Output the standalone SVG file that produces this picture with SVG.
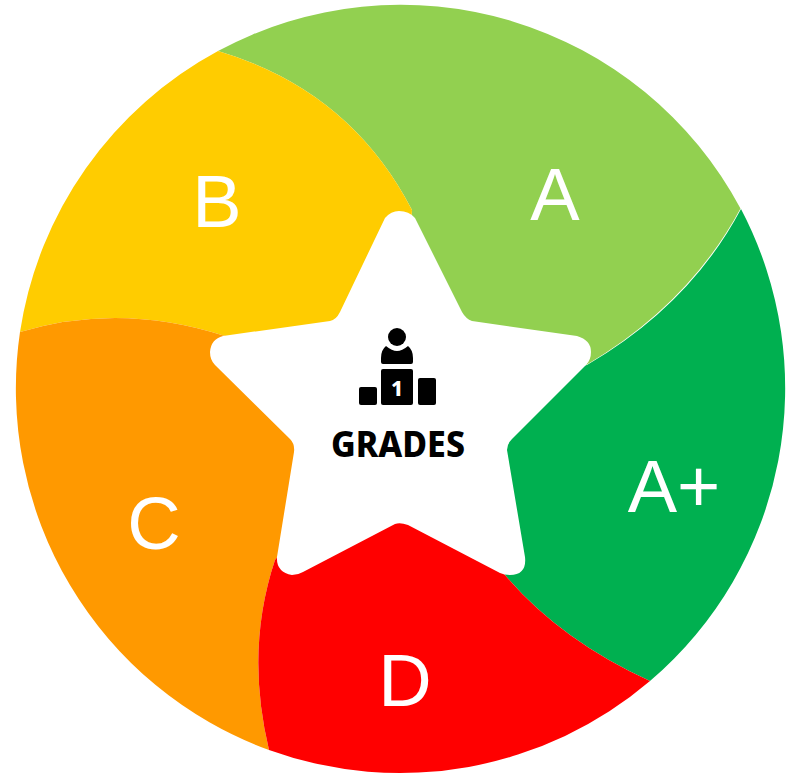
<svg xmlns="http://www.w3.org/2000/svg" width="796" height="774" viewBox="0 0 796 774">
<style>
.l{font-size:74px;fill:#fff;text-anchor:middle}
.k{fill:#000}
</style>
<rect width="796" height="774" fill="#fff"/>
<g id="segment-a-plus"><path fill="#00b050" d="M741 209A385 385 0 0 1 650 681Q560 640 505 575L400 400L587 365Q690 305 741 209Z"/><text class="l" font-family="Liberation Sans, Arial, sans-serif" x="674" y="512">A+</text></g>
<g id="segment-a"><path fill="#92d050" d="M218 51A385 385 0 0 1 740.500 208.500Q689 304 587 364.500L400 400L412 210Q350 90 218 51Z"/><text class="l" font-family="Liberation Sans, Arial, sans-serif" x="555" y="220">A</text></g>
<g id="segment-b"><path fill="#ffcc00" d="M20 332A385 385 0 0 1 218 51Q350 90 412 210L400 400L225 336Q120 302 20 332Z"/><text class="l" font-family="Liberation Sans, Arial, sans-serif" x="217" y="227">B</text></g>
<g id="segment-c"><path fill="#ff9900" d="M20 332Q120 302 225 336L400 400L275 560Q245 650 269 750A385 385 0 0 1 20 332Z"/><text class="l" font-family="Liberation Sans, Arial, sans-serif" x="154" y="549">C</text></g>
<g id="segment-d"><path fill="#ff0000" d="M269 750Q245 650 275 560L400 400L505 575Q560 640 650 681A385 385 0 0 1 269 750Z"/><text class="l" font-family="Liberation Sans, Arial, sans-serif" x="405" y="706">D</text></g>
<g id="star">
<path fill="#fff" d="M385 218Q391 211 399 211Q409 211 415 218L462 312Q466 319 472 321L577 336Q591 340 591 352Q591 360 586 365L512 439Q507 444 507 450L525 557Q527 575 510 575Q504 575 500 573L408 525Q400 522 395 524L303 572Q298 575 292 575Q276 572 277 557L294 452Q295 444 290 439L215 365Q210 360 210 352Q211 339 223 336L330 321Q336 320 340 312Z"/>
<g id="podium-icon">
<circle class="k" cx="397" cy="337" r="9"/>
<path class="k" d="M386 346Q392 351 397 351Q402 351 408 346Q413 350 413 358V362Q413 364 411 364H383Q381 364 381 362V358Q381 350 386 346Z"/>
<rect class="k" x="381" y="369" width="32" height="36" rx="2"/>
<rect class="k" x="359" y="387" width="18" height="18" rx="2"/>
<rect class="k" x="418" y="378" width="18" height="27" rx="2"/>
<text x="397" y="396" font-family="'Noto Sans',sans-serif" font-weight="800" font-size="21" fill="#fff" text-anchor="middle">1</text>
</g>
<text x="398" y="457" font-family="'Noto Sans',sans-serif" font-weight="800" font-size="35" fill="#000" text-anchor="middle" textLength="134" lengthAdjust="spacingAndGlyphs">GRADES</text>
</g>
</svg>
